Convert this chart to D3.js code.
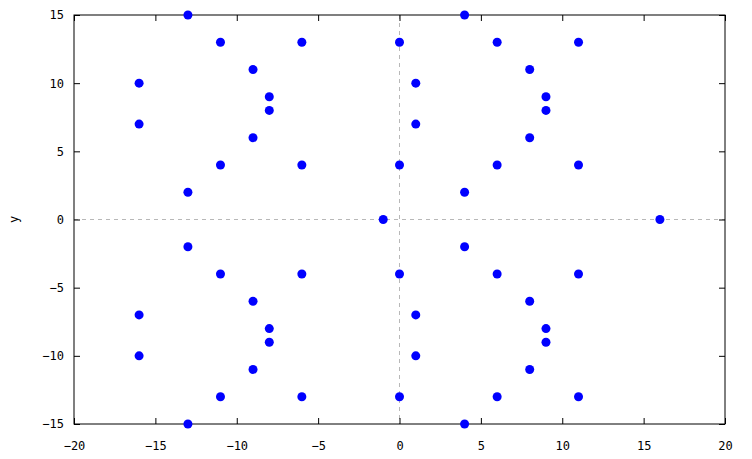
<!DOCTYPE html>
<html><head><meta charset="utf-8">
<script src="https://cdn.jsdelivr.net/npm/d3@7"></script>
<style>body{margin:0;background:#fff}</style>
</head><body>
<svg id="c" width="752" height="459"></svg>
<script>
const xs = [-13,4,-11,-6,0,6,11,-9,8,-16,1,-8,-8,9,9,-16,1,-9,8,-11,-6,0,6,11,-13,4,-1,16,-13,4,-11,-6,0,6,11,-9,8,-16,1,-8,-8,9,9,-16,1,-9,8,-11,-6,0,6,11,-13,4];
const ys = [15,15,13,13,13,13,13,11,11,10,10,9,8,9,8,7,7,6,6,4,4,4,4,4,2,2,0,0,-2,-2,-4,-4,-4,-4,-4,-6,-6,-7,-7,-8,-9,-8,-9,-10,-10,-11,-11,-13,-13,-13,-13,-13,-15,-15];
const xTicks = [-20,-15,-10,-5,0,5,10,15,20];
const yTicks = [-15,-10,-5,0,5,10,15];
const yLabel = "y";

const svg = d3.select("#c");
const L=74,R=725,T=15,B=424;
const x = d3.scaleLinear().domain([-20,20]).range([L,R]);
const y = d3.scaleLinear().domain([-15,15]).range([B,T]);
const font = "'DejaVu Sans Mono', monospace";

// zero lines
svg.append("line").attr("x1",x(0)).attr("x2",x(0)).attr("y1",T).attr("y2",B)
  .attr("stroke","#b8b8b8").attr("stroke-dasharray","4,4");
svg.append("line").attr("x1",L).attr("x2",R).attr("y1",y(0)).attr("y2",y(0))
  .attr("stroke","#b8b8b8").attr("stroke-dasharray","4,4");

function styleAxis(g){
  g.select(".domain").remove();
  g.selectAll("line").attr("stroke","#000");
  g.selectAll("text").attr("font-family",font).attr("font-size",12).attr("fill","#000");
}
svg.append("g").attr("transform",`translate(0,${B})`)
  .call(d3.axisBottom(x).tickValues(xTicks).tickSize(-6).tickPadding(17).tickFormat(d3.format("d")))
  .call(styleAxis);
svg.append("g").attr("transform",`translate(0,${T})`)
  .call(d3.axisTop(x).tickValues(xTicks).tickSize(-6).tickFormat(""))
  .call(styleAxis);
svg.append("g").attr("transform",`translate(${L},0)`)
  .call(d3.axisLeft(y).tickValues(yTicks).tickSize(-6).tickPadding(10).tickFormat(d3.format("d")))
  .call(styleAxis);
svg.append("g").attr("transform",`translate(${R},0)`)
  .call(d3.axisRight(y).tickValues(yTicks).tickSize(-6).tickFormat(""))
  .call(styleAxis);

svg.append("rect").attr("x",L).attr("y",T).attr("width",R-L).attr("height",B-T)
  .attr("fill","none").attr("stroke","#000").attr("stroke-width",1);

svg.append("text").attr("transform",`translate(18,${y(0)}) rotate(-90)`)
  .attr("text-anchor","middle").attr("font-family",font).attr("font-size",12).text(yLabel);

svg.append("g").selectAll("circle").data(xs.map((v,i)=>[v,ys[i]])).join("circle")
  .attr("cx",d=>x(d[0])).attr("cy",d=>y(d[1])).attr("r",4.5).attr("fill","#0000ff");
</script>
</body></html>
